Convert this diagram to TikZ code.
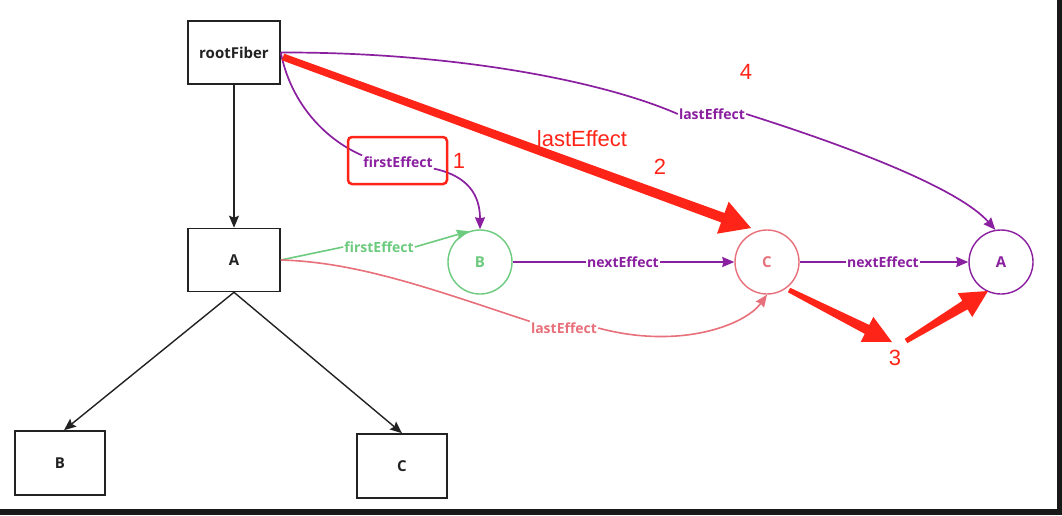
\documentclass[tikz,border=0pt]{standalone}
\usepackage{fontspec}
\setmainfont{Open Sans}
\newfontfamily\annfont{Liberation Sans}
\usetikzlibrary{arrows.meta,calc}
\definecolor{pur}{HTML}{8A1FA0}
\definecolor{grn}{HTML}{6CCB7E}
\definecolor{pnk}{HTML}{E8707A}
\definecolor{redann}{HTML}{FF2418}
\definecolor{boxk}{HTML}{222222}
\tikzset{
  fbox/.style={draw=boxk, line width=1.6pt, minimum width=92pt, minimum height=63pt, inner sep=0pt, font=\fontsize{15}{17}\selectfont\bfseries, text=boxk},
  fcirc/.style={circle, line width=1.4pt, minimum size=64pt, inner sep=0pt, font=\fontsize{15}{17}\selectfont\bfseries},
  lab/.style={fill=white, inner sep=1pt, font=\fontsize{14}{16}\selectfont\bfseries},
  tree/.style={draw=boxk, line width=1.4pt, -{Stealth[length=12pt,width=10pt,inset=2pt]}},
  purl/.style={draw=pur, line width=1.7pt},
  purarr/.style={purl, -{Stealth[length=12pt,width=10pt,inset=1pt]}},
  grnl/.style={draw=grn, line width=1.6pt},
  pnkl/.style={draw=pnk, line width=1.6pt},
  ann/.style={text=redann, font=\annfont\fontsize{22}{24}\selectfont},
}
% tapered red annotation arrow: start, end, half width at start, half width at head base, head length, head half width
\newcommand\redarrow[6]{%
  \path ($(#2)!#5!(#1)$) coordinate (rab);
  \fill[redann] ($(#1)!#3!90:(#2)$) -- ($(rab)!#4!-90:(#1)$) -- ($(rab)!#6!-90:(#1)$) -- (#2)
     -- ($(rab)!#6!90:(#1)$) -- ($(rab)!#4!90:(#1)$) -- ($(#1)!#3!-90:(#2)$) -- cycle;}
\begin{document}
\begin{tikzpicture}[x=1pt,y=-1pt]
\useasboundingbox (0,0) rectangle (1062,515);
\fill[white] (0,0) rectangle (1062,515);
\fill[black!90] (1057,0) rectangle (1062,515);
\fill[black!90] (0,509) rectangle (1062,515);

% tree boxes
\node[fbox] (rf) at (234,52.5) {rootFiber};
\node[fbox] (tA) at (234,260) {A};
\node[fbox, minimum width=90pt, minimum height=64pt] (tB) at (60,463) {B};
\node[fbox, minimum width=90pt, minimum height=64pt] (tC) at (402,466) {C};

\draw[tree] (rf.south) -- (tA.north);
\draw[tree] (tA.south) -- ($(tB.north)+(4,0)$);
\draw[tree] (tA.south) -- (tC.north);

% effect circles
\node[fcirc, draw=grn, text=grn] (cB) at (480,262) {B};
\node[fcirc, draw=pnk, text=pnk] (cC) at (767,262) {C};
\node[fcirc, draw=pur, text=pur] (cA) at (1001,262) {A};

% label nodes
\node[lab, text=pur] (fe1) at (398,162) {firstEffect};
\node[lab, text=grn] (fe2) at (379,247) {firstEffect};
\node[lab, text=pnk] (le1) at (564,328) {lastEffect};
\node[lab, text=pur] (le2) at (712,114) {lastEffect};
\node[lab, text=pur] (ne1) at (623,262) {nextEffect};
\node[lab, text=pur] (ne2) at (883,262) {nextEffect};

% purple firstEffect rootFiber -> B
\draw[purl] (rf.east) .. controls (290,100) and (322,138) .. (fe1.north west);
\draw[purarr] (fe1.south east) .. controls (468,176) and (480,195) .. (cB.north);

% green firstEffect A -> B
\draw[grnl] (tA.east) -- (fe2.west);
\draw[grnl, -{Stealth[length=12pt,width=10pt,inset=1pt]}] (fe2.east) -- (cB.110);

% pink lastEffect A -> C
\draw[pnkl] (tA.east) .. controls (360,262) and (440,292) .. (le1.north west);
\draw[pnkl, -{Stealth[length=12pt,width=10pt,inset=1pt]}] (le1.east) .. controls (680,350) and (745,325) .. (cC.south);

% purple lastEffect rootFiber -> A
\draw[purl] (rf.east) .. controls (450,52) and (600,80) .. (le2.west);
\draw[purarr] (le2.east) .. controls (860,150) and (960,190) .. (cA.100);

% nextEffect
\draw[purl] (cB.east) -- (ne1.west);
\draw[purarr] (ne1.east) -- (cC.west);
\draw[purl] (cC.east) -- (ne2.west);
\draw[purarr] (ne2.east) -- (cA.west);

% red annotations
\draw[draw=redann, line width=2.5pt, rounded corners=4pt] (348,137) rectangle (447,184);
\node[ann] (n1) at (459,161) {1};
\node[ann] (n2) at (660,167) {2};
\node[ann] (n3) at (895,358) {3};
\node[ann] (n4) at (746,72) {4};
\node[ann] (lr) at (582,139) {lastEffect};

\coordinate (r2s) at (283,57);
\coordinate (r2e) at (751,228);
\redarrow{r2s}{r2e}{3.5pt}{5pt}{30pt}{17pt}
\coordinate (r3s) at (789,290);
\coordinate (r3e) at (892,342);
\redarrow{r3s}{r3e}{2.5pt}{5pt}{28pt}{14pt}
\coordinate (r4s) at (906,341);
\coordinate (r4e) at (988,291);
\redarrow{r4s}{r4e}{2.5pt}{5pt}{27pt}{14pt}
\end{tikzpicture}
\end{document}
